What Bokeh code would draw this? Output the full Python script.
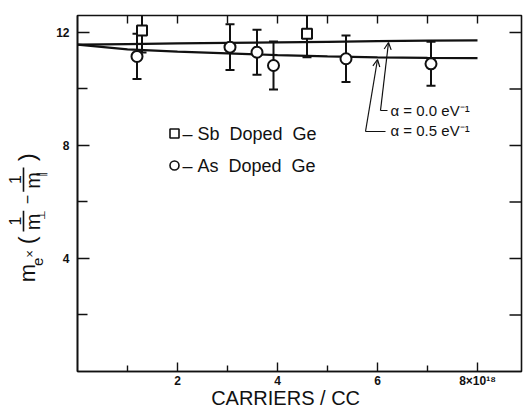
import math
from bokeh.plotting import figure
from bokeh.layouts import row
from bokeh.models import (Range1d, FixedTicker, Label, Arrow, OpenHead,
                          Whisker, ColumnDataSource, TeeHead)
from bokeh.embed import file_html
from bokeh.resources import INLINE

# ---------------- data ----------------
sb_x = [1.29, 4.59]
sb_y = [12.07, 11.95]
sb_err = [0.78, 0.83]

as_x = [1.19, 3.05, 3.59, 3.92, 5.37, 7.07]
as_y = [11.15, 11.48, 11.30, 10.83, 11.07, 10.89]
as_err = [0.80, 0.81, 0.80, 0.85, 0.82, 0.78]

curve_x = [0, 1, 2, 3, 4, 5, 6, 7, 8]
alpha00_y = [11.57, 11.59, 11.61, 11.63, 11.65, 11.67, 11.69, 11.71, 11.72]
alpha05_y = [11.57, 11.40, 11.32, 11.26, 11.20, 11.15, 11.12, 11.10, 11.09]

x_major = [2, 4, 6, 8]
x_minor = [1, 3, 5, 7]
x_labels = {2: "2", 4: "4", 6: "6", 8: "8×10¹⁸"}
y_major = [4, 8, 12]
y_minor = [2, 6, 10]
top_ticks = [1, 2, 3, 4, 5, 6, 7, 8]
right_ticks = [2, 4, 6, 8, 10, 12]

# ---------------- geometry ----------------
W, H = 523, 412
LW = 50                      # width of the y-label strip
L, R, T, B = 77, 2, 15, 41   # frame borders on the page
XMAX, YMAX = 8.88, 12.6
fw, fh = W - L - R, H - T - B


def px(x_pix):
    return (x_pix - L) / fw * XMAX


def py(y_pix):
    return (H - B - y_pix) / fh * YMAX


FONT = "Liberation Sans"
INK = "#111111"
NB = "\u00a0"

p = figure(width=W - LW, height=H, output_backend="svg", toolbar_location=None,
           x_range=Range1d(0, XMAX), y_range=Range1d(0, YMAX),
           min_border_left=L - LW, min_border_right=R, min_border_top=T, min_border_bottom=B,
           background_fill_color="white", border_fill_color="white")
p.outline_line_color = INK
p.outline_line_width = 1.6
p.grid.visible = False

xa = p.xaxis[0]
xa.ticker = FixedTicker(ticks=x_major, minor_ticks=x_minor)
xa.major_label_overrides = x_labels
ya = p.yaxis[0]
ya.ticker = FixedTicker(ticks=y_major, minor_ticks=y_minor)
for ax in p.axis:
    ax.axis_line_color = INK
    ax.axis_line_width = 1.6
    ax.major_tick_line_color = INK
    ax.minor_tick_line_color = INK
    ax.major_tick_line_width = 1.4
    ax.minor_tick_line_width = 1.4
    ax.major_tick_out = 0
    ax.minor_tick_out = 0
    ax.major_label_text_font = FONT
    ax.major_label_text_font_size = "12px"
    ax.major_label_text_font_style = "bold"
    ax.major_label_text_color = INK
xa.major_tick_in = 9
xa.minor_tick_in = 6
xa.major_label_standoff = 2
xa.axis_label = "CARRIERS" + NB + "/" + NB + "CC" + NB * 5
xa.axis_label_text_font = FONT
xa.axis_label_text_font_size = "20px"
xa.axis_label_text_font_style = "normal"
xa.axis_label_text_color = INK
xa.axis_label_standoff = -4
ya.major_tick_in = 12
ya.minor_tick_in = 10
ya.major_label_standoff = 8

# top and right inward ticks
top_len = 8 / fh * YMAX
p.segment(x0=top_ticks, y0=[YMAX] * len(top_ticks), x1=top_ticks, y1=[YMAX - top_len] * len(top_ticks),
          line_color=INK, line_width=1.4)
right_len = 12 / fw * XMAX
p.segment(x0=[XMAX] * len(right_ticks), y0=right_ticks, x1=[XMAX - right_len] * len(right_ticks), y1=right_ticks,
          line_color=INK, line_width=1.4)

# curves
p.line(curve_x, alpha00_y, line_color=INK, line_width=2.2)
p.line(curve_x, alpha05_y, line_color=INK, line_width=2.2)

# error bars
for xs, ys, es in ((sb_x, sb_y, sb_err), (as_x, as_y, as_err)):
    src = ColumnDataSource(dict(x=xs, lo=[y - e for y, e in zip(ys, es)],
                                hi=[y + e for y, e in zip(ys, es)]))
    w = Whisker(source=src, base="x", lower="lo", upper="hi", line_color=INK, line_width=2,
                upper_head=TeeHead(size=9, line_color=INK, line_width=2),
                lower_head=TeeHead(size=9, line_color=INK, line_width=2))
    p.add_layout(w)

p.scatter(sb_x, sb_y, marker="square", size=10, fill_color="white", line_color=INK, line_width=2)
p.scatter(as_x, as_y, marker="circle", size=11, fill_color="white", line_color=INK, line_width=2)

# legend (manual)
p.scatter([px(174)], [py(133)], marker="square", size=9, fill_color="white", line_color=INK, line_width=1.6)
p.scatter([px(174)], [py(165)], marker="circle", size=9, fill_color="white", line_color=INK, line_width=1.6)
p.add_layout(Label(x=px(182), y=py(133), text="–" + NB + "Sb" + NB * 2 + "Doped" + NB * 2 + "Ge",
                   text_font=FONT, text_font_size="18px",
                   text_baseline="middle", text_align="left", text_color=INK))
p.add_layout(Label(x=px(182), y=py(165), text="–" + NB + "As" + NB * 2 + "Doped" + NB * 2 + "Ge",
                   text_font=FONT, text_font_size="18px",
                   text_baseline="middle", text_align="left", text_color=INK))

# leaders and alpha labels
p.add_layout(Arrow(end=OpenHead(size=7, line_color=INK, line_width=1.2), line_color=INK, line_width=1.2,
                   x_start=px(380), y_start=py(110), x_end=px(388), y_end=py(42)))
p.line([px(380), px(387)], [py(110), py(110)], line_color=INK, line_width=1.2)
p.add_layout(Arrow(end=OpenHead(size=7, line_color=INK, line_width=1.2), line_color=INK, line_width=1.2,
                   x_start=px(365), y_start=py(131), x_end=px(377), y_end=py(59)))
p.line([px(365), px(385)], [py(131), py(131)], line_color=INK, line_width=1.2)
p.add_layout(Label(x=px(390), y=py(110), text="α = 0.0 eV⁻¹", text_font=FONT, text_font_size="15px",
                   text_baseline="middle", text_color=INK))
p.add_layout(Label(x=px(390), y=py(130), text="α = 0.5 eV⁻¹", text_font=FONT, text_font_size="15px",
                   text_baseline="middle", text_color=INK))

# ---------------- y-axis label strip ----------------
q = figure(width=LW, height=H, output_backend="svg", toolbar_location=None,
           x_range=Range1d(0, LW), y_range=Range1d(H, 0),
           min_border=0, background_fill_color="white", border_fill_color="white")
q.axis.visible = False
q.grid.visible = False
q.outline_line_color = None
A = math.pi / 2


def ylab(x_pix, y_pix, text, size):
    q.add_layout(Label(x=x_pix, y=y_pix, text=text, angle=A, text_font=FONT,
                       text_font_size=size, text_align="center", text_baseline="middle",
                       text_color=INK))


ylab(27, 298, "m", "22px")
ylab(37, 285, "e", "15px")
ylab(29, 276, "×", "13px")
ylab(26, 260, "(", "24px")
ylab(14, 238, "1", "16px")
ylab(32, 239, "m", "20px")
ylab(40, 231, "⊥", "11px")
ylab(26, 213, "−", "16px")
ylab(14, 190, "1", "16px")
ylab(32, 191, "m", "20px")
ylab(40, 183, "∥", "11px")
ylab(26, 164, ")", "24px")
q.segment(x0=[23, 23], y0=[226, 176], x1=[23, 23], y1=[250, 204], line_color=INK, line_width=1.6)

layout = row(q, p, spacing=0)
open("out.html", "w").write(file_html(layout, INLINE))
